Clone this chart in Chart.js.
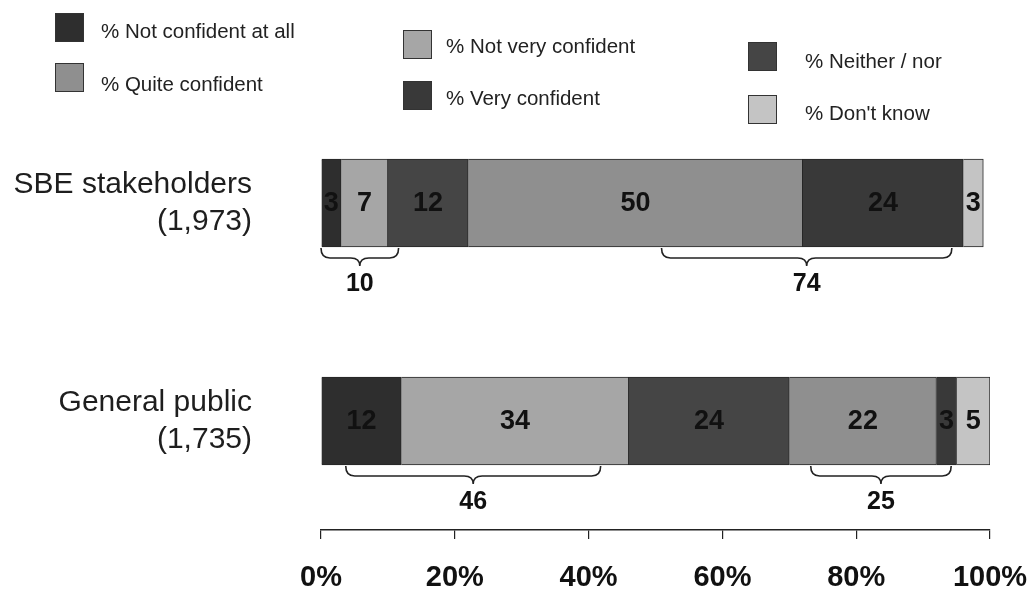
<!DOCTYPE html>
<html>
<head>
<meta charset="utf-8">
<script src="https://cdn.jsdelivr.net/npm/chart.js@4/dist/chart.umd.min.js"></script>
<style>
  html, body { margin: 0; padding: 0; background: #fff; }
  #wrap { position: relative; width: 1028px; height: 598px; overflow: hidden; font-family: "Liberation Sans", Arial, sans-serif; }
  #c { position: absolute; left: 0; top: 0; }
  .sw { position: absolute; width: 29px; height: 29px; border: 1px solid #333; box-sizing: border-box; }
  .tx { position: absolute; font-size: 20.5px; color: #222; white-space: nowrap; line-height: 20px; }
</style>
</head>
<body>
<div id="wrap">
  <canvas id="c" width="1028" height="598"></canvas>
</div>
<script>
// ---- data ----
const categories = [["SBE stakeholders", "(1,973)"], ["General public", "(1,735)"]];
const seriesNames = ["% Not confident at all", "% Not very confident", "% Neither / nor", "% Quite confident", "% Very confident", "% Don't know"];
const notConfidentAtAll = [3, 12];
const notVeryConfident  = [7, 34];
const neitherNor        = [12, 24];
const quiteConfident    = [50, 22];
const veryConfident     = [24, 3];
const dontKnow          = [3, 5];
const tickValues = [0, 20, 40, 60, 80, 100];

// ---- styles / annotation config ----
const seriesColors = ["#2e2e2e", "#a6a6a6", "#454545", "#8f8f8f", "#393939", "#c4c4c4"];
// brackets: row, span on the % axis, and which series are summed for the label
const brackets = [
  { row: 0, from: 0,    to: 11.6, series: [0, 1] },
  { row: 0, from: 50.9, to: 94.3, series: [3, 4] },
  { row: 1, from: 3.7,  to: 41.8, series: [0, 1] },
  { row: 1, from: 73.2, to: 94.2, series: [3, 4] }
];
// legend layout (row-major grid as in the original)
const legendPos = [
  { sx: 55,  sy: 13, tx: 101, ty: 31 },
  { sx: 403, sy: 30, tx: 446, ty: 46 },
  { sx: 748, sy: 42, tx: 805, ty: 61 },
  { sx: 55,  sy: 63, tx: 101, ty: 84 },
  { sx: 403, sy: 81, tx: 446, ty: 98 },
  { sx: 748, sy: 95, tx: 805, ty: 113 }
];

const allSeries = [notConfidentAtAll, notVeryConfident, neitherNor, quiteConfident, veryConfident, dontKnow];

// HTML legend
const wrap = document.getElementById('wrap');
seriesNames.forEach((name, i) => {
  const p = legendPos[i];
  const sw = document.createElement('div');
  sw.className = 'sw';
  sw.style.left = p.sx + 'px'; sw.style.top = p.sy + 'px';
  sw.style.background = seriesColors[i];
  wrap.appendChild(sw);
  const tx = document.createElement('div');
  tx.className = 'tx';
  tx.textContent = name;
  tx.style.left = p.tx + 'px'; tx.style.top = (p.ty - 10) + 'px';
  wrap.appendChild(tx);
});

const FONT = '"Liberation Sans", Arial, sans-serif';

const annotatePlugin = {
  id: 'annotate',
  afterDatasetsDraw(chart) {
    const ctx = chart.ctx;
    ctx.save();
    ctx.font = 'bold 27px ' + FONT;
    ctx.fillStyle = '#111';
    ctx.textAlign = 'center';
    ctx.textBaseline = 'middle';
    chart.data.datasets.forEach((ds, i) => {
      const meta = chart.getDatasetMeta(i);
      meta.data.forEach((el, j) => {
        ctx.fillText(String(ds.data[j]), (el.x + el.base) / 2, el.y + 1);
      });
    });
    const xs = chart.scales.x;
    ctx.strokeStyle = '#222';
    ctx.lineWidth = 1.6;
    brackets.forEach(b => {
      const el = chart.getDatasetMeta(0).data[b.row];
      const bottom = el.y + el.height / 2;
      const x1 = xs.getPixelForValue(b.from), x2 = xs.getPixelForValue(b.to);
      const xm = (x1 + x2) / 2;
      const yl = bottom + 11;
      ctx.beginPath();
      ctx.moveTo(x1, bottom + 1);
      ctx.quadraticCurveTo(x1, yl, x1 + 9, yl);
      ctx.lineTo(xm - 9, yl);
      ctx.quadraticCurveTo(xm, yl, xm, yl + 8);
      ctx.quadraticCurveTo(xm, yl, xm + 9, yl);
      ctx.lineTo(x2 - 9, yl);
      ctx.quadraticCurveTo(x2, yl, x2, bottom + 1);
      ctx.stroke();
      const sum = b.series.reduce((s, k) => s + allSeries[k][b.row], 0);
      ctx.font = 'bold 25px ' + FONT;
      ctx.fillText(String(sum), xm, yl + 26);
    });
    ctx.restore();
  }
};

new Chart(document.getElementById('c'), {
  type: 'bar',
  data: {
    labels: categories,
    datasets: seriesNames.map((name, i) => ({
      label: name,
      data: allSeries[i],
      backgroundColor: seriesColors[i],
      borderColor: '#262626',
      borderWidth: 1,
      barThickness: 88
    }))
  },
  options: {
    indexAxis: 'y',
    responsive: false,
    animation: false,
    layout: { padding: { top: 94, right: 38, bottom: 6, left: 0 } },
    plugins: { legend: { display: false }, tooltip: { enabled: false } },
    scales: {
      x: {
        type: 'linear',
        stacked: true,
        min: 0, max: 100,
        afterBuildTicks(scale) { scale.ticks = tickValues.map(v => ({ value: v })); },
        afterFit(scale) { scale.paddingLeft = 0; scale.paddingRight = 0; scale.height = 62; },
        ticks: {
          callback: v => v + '%',
          font: { family: FONT, size: 29, weight: 'bold' },
          color: '#111',
          padding: 22,
          maxRotation: 0,
          minRotation: 0
        },
        grid: { drawOnChartArea: false, drawTicks: true, tickLength: 9, color: '#222', lineWidth: 1.2 },
        border: { display: true, color: '#222', width: 1.5 }
      },
      y: {
        stacked: true,
        afterFit(scale) { scale.width = 321; scale.paddingTop = 0; scale.paddingBottom = 0; },
        ticks: {
          font: { family: FONT, size: 30, lineHeight: 1.25 },
          color: '#1e1e1e',
          padding: 61
        },
        grid: { display: false },
        border: { display: false }
      }
    }
  },
  plugins: [annotatePlugin]
});
</script>
</body>
</html>
